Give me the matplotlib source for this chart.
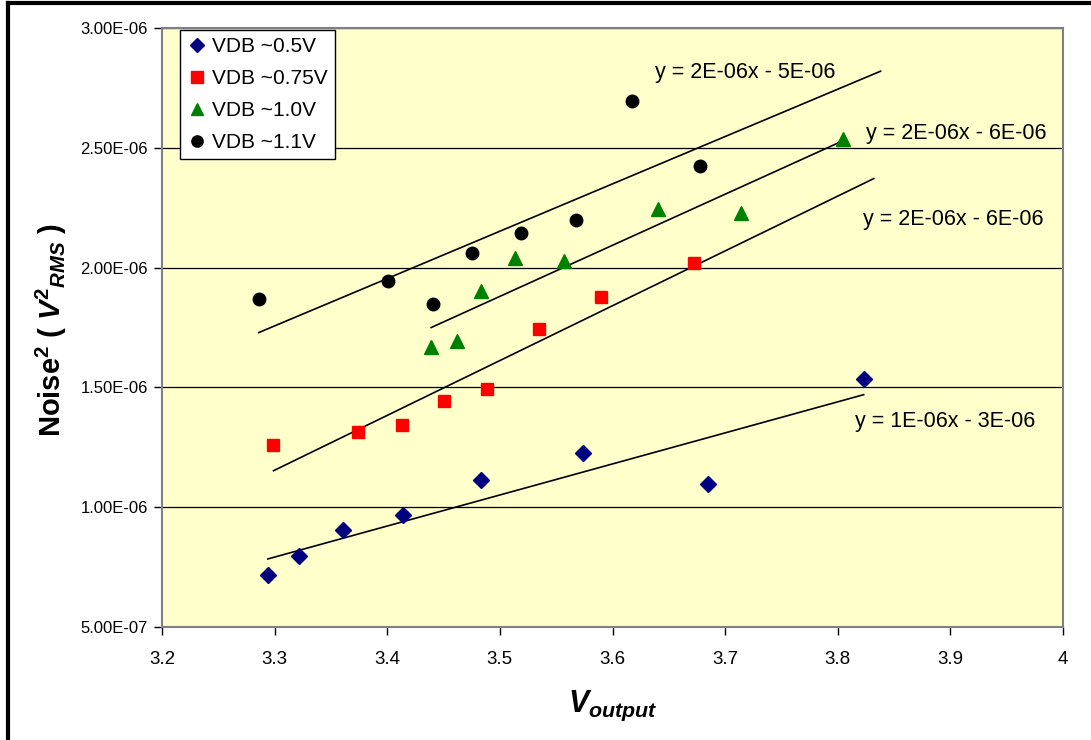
import numpy as np
import matplotlib
matplotlib.use("Agg")
import matplotlib.pyplot as plt
from matplotlib.lines import Line2D
from matplotlib.ticker import FuncFormatter, MultipleLocator

plt.rcParams['font.family'] = ['Liberation Sans', 'DejaVu Sans']
plt.rcParams['mathtext.fontset'] = 'custom'
plt.rcParams['mathtext.rm'] = 'Liberation Sans'
plt.rcParams['mathtext.it'] = 'Liberation Sans:italic'
plt.rcParams['mathtext.bf'] = 'Liberation Sans:bold'
plt.rcParams['mathtext.bfit'] = 'Liberation Sans:bold:italic'

# Measured output voltage vs. squared RMS noise, per drain-bias setting
labels = ['VDB ~0.5V', 'VDB ~0.75V', 'VDB ~1.0V', 'VDB ~1.1V']

vout_05 = [3.294, 3.322, 3.361, 3.414, 3.483, 3.574, 3.685, 3.823]
noise_05 = [0.717e-6, 0.796e-6, 0.904e-6, 0.967e-6, 1.113e-6, 1.225e-6, 1.096e-6, 1.533e-6]

vout_075 = [3.299, 3.374, 3.413, 3.450, 3.489, 3.535, 3.590, 3.672]
noise_075 = [1.258e-6, 1.313e-6, 1.342e-6, 1.442e-6, 1.492e-6, 1.742e-6, 1.879e-6, 2.021e-6]

vout_10 = [3.439, 3.462, 3.483, 3.513, 3.557, 3.640, 3.714, 3.805]
noise_10 = [1.667e-6, 1.692e-6, 1.904e-6, 2.042e-6, 2.029e-6, 2.246e-6, 2.229e-6, 2.537e-6]

vout_11 = [3.286, 3.401, 3.441, 3.475, 3.519, 3.568, 3.617, 3.678]
noise_11 = [1.867e-6, 1.942e-6, 1.846e-6, 2.063e-6, 2.146e-6, 2.200e-6, 2.696e-6, 2.425e-6]

# Trendline equations as printed next to each fit
equations = ['y = 1E-06x - 3E-06', 'y = 2E-06x - 6E-06',
             'y = 2E-06x - 6E-06', 'y = 2E-06x - 5E-06']
# Forward forecast (in V) applied to each trendline
forecast = [0.0, 0.16, 0.0, 0.16]

series = [(vout_05, noise_05), (vout_075, noise_075),
          (vout_10, noise_10), (vout_11, noise_11)]
colors = ['#000080', '#FF0000', '#008000', '#000000']
markers = ['D', 's', '^', 'o']
msizes = [8, 9, 9.5, 9]
eq_pos = [(3.815, 1.358e-6), (3.822, 2.20e-6), (3.825, 2.558e-6), (3.638, 2.8125e-6)]

fig = plt.figure(figsize=(10.91, 7.40), dpi=100)
fig.patch.set_facecolor('white')
ax = fig.add_axes([162 / 1091, 1 - 627 / 740, 901 / 1091, 599 / 740])
ax.set_facecolor('#FFFFCC')

ax.set_xlim(3.2, 4.0)
ax.set_ylim(0.5e-6, 3.0e-6)
ax.xaxis.set_major_locator(MultipleLocator(0.1))
ax.yaxis.set_major_locator(MultipleLocator(0.5e-6))
ax.yaxis.grid(True, color='black', linewidth=0.9)
ax.set_axisbelow(True)

ax.xaxis.set_major_formatter(FuncFormatter(lambda v, p: f'{v:g}'))
ax.yaxis.set_major_formatter(FuncFormatter(lambda v, p: f'{v:.2E}'))
ax.tick_params(axis='both', direction='out', length=6, width=1, color='black')
ax.tick_params(axis='x', pad=11, labelsize=13.5)
ax.tick_params(axis='y', pad=4, labelsize=12)

for s in ax.spines.values():
    s.set_color('#808080')
    s.set_linewidth(1.5)

for (xs, ys), c, m, ms, lab, fc, eq, pos in zip(series, colors, markers, msizes,
                                               labels, forecast, equations, eq_pos):
    xs = np.asarray(xs)
    ys = np.asarray(ys)
    k, b = np.polyfit(xs, ys, 1)
    xl = np.array([xs.min(), xs.max() + fc])
    ax.plot(xl, k * xl + b, color='black', linewidth=1.2, zorder=2)
    ax.plot(xs, ys, linestyle='none', marker=m, markersize=ms, color=c,
            markeredgecolor=c, label=lab, zorder=3)
    ax.text(pos[0], pos[1], eq, fontsize=15.5, ha='left', va='center', zorder=4)

leg = ax.legend(loc='upper left', bbox_to_anchor=(0.02, 0.997), fontsize=15,
                frameon=True, fancybox=False, edgecolor='black', framealpha=1,
                borderpad=0.35, labelspacing=0.62, handlelength=0.9,
                handletextpad=0.3, borderaxespad=0, markerscale=0.9)
leg.get_frame().set_linewidth(1.0)

fig.text(51 / 1091, 1 - 330 / 740,
         r'$\mathbf{Noise}^{\mathbf{2}}\mathbf{\ (\ }\mathbfit{V}^{\mathbf{2}}{}_{\mathbfit{RMS}}\mathbf{\ )}$',
         rotation=90, ha='center', va='center', fontsize=21)
fig.text(613 / 1091, 1 - 712 / 740,
         r'$\mathbfit{V}_{\mathbfit{output}}$',
         ha='center', va='baseline', fontsize=22)

# Outer frame: heavy rules along the top and left edges
fig.add_artist(Line2D([8 / 1091, 8 / 1091], [0, 1 - 3 / 740], transform=fig.transFigure,
                      color='black', linewidth=3))
fig.add_artist(Line2D([8 / 1091, 1], [1 - 3 / 740, 1 - 3 / 740], transform=fig.transFigure,
                      color='black', linewidth=3))

fig.savefig('out.png', dpi=100)
